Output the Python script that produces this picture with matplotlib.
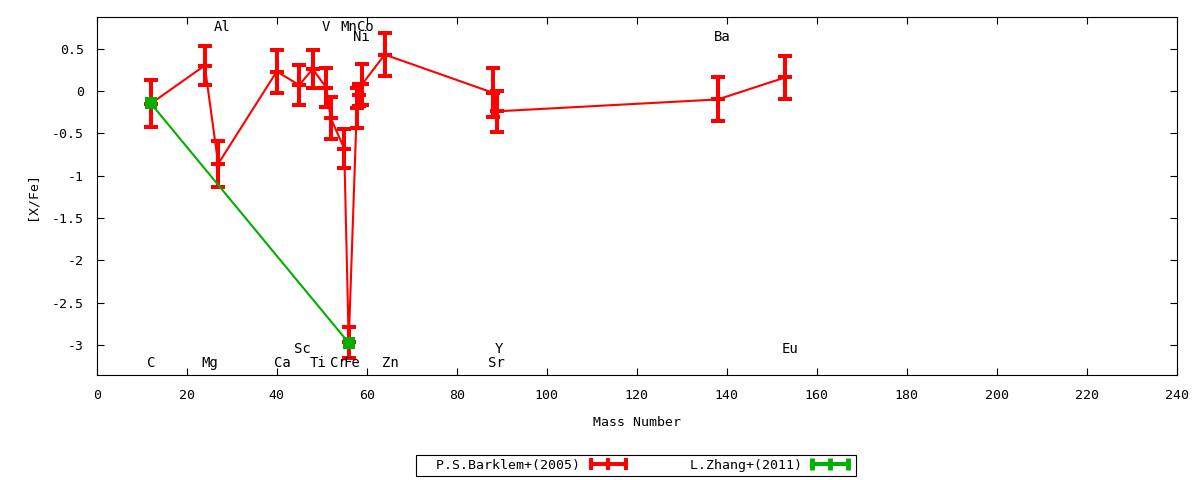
import matplotlib
matplotlib.use("Agg")
import matplotlib.pyplot as plt
from matplotlib.lines import Line2D

plt.rcParams['font.family'] = ['DejaVu Sans Mono', 'DejaVu Sans']
plt.rcParams['font.size'] = 9.5

# P.S.Barklem+(2005)
bark_mass = [12, 24, 27, 40, 45, 48, 51, 52, 55, 56, 57.8, 58.3, 59, 64, 88, 89, 138, 153]
bark_val = [-0.15, 0.30, -0.86, 0.23, 0.07, 0.26, 0.04, -0.32, -0.68, -2.97,
            -0.20, -0.05, 0.08, 0.43, -0.02, -0.24, -0.10, 0.16]
bark_err = [0.28, 0.23, 0.27, 0.25, 0.24, 0.22, 0.23, 0.25, 0.23, 0.18,
            0.24, 0.13, 0.24, 0.25, 0.29, 0.24, 0.26, 0.25]

# L.Zhang+(2011)
zhang_mass = [12, 56]
zhang_val = [-0.145, -2.975]
zhang_err = [0.03, 0.03]

# element name labels
lab_text = ['Al', 'V', 'Mn', 'Co', 'Ni', 'Ba',
            'C', 'Mg', 'Ca', 'Ti', 'Cr', 'Fe', 'Zn', 'Sr',
            'Sc', 'Y', 'Eu']
lab_x = [27.8, 50.9, 56.0, 59.8, 58.9, 138.9,
         12.1, 25.2, 41.2, 49.2, 53.6, 56.7, 65.2, 88.9,
         45.8, 89.4, 154.1]
lab_y = [0.756, 0.756, 0.756, 0.756, 0.638, 0.638,
         -3.211, -3.211, -3.211, -3.211, -3.211, -3.211, -3.211, -3.211,
         -3.046, -3.046, -3.046]

fig = plt.figure(figsize=(12, 4.8), dpi=100)
ax = fig.add_axes([0.0806, 0.219, 0.9, 0.7456])

red = '#ff0000'
green = '#00b000'

ax.errorbar(bark_mass, bark_val, yerr=bark_err, color=red, lw=1.5,
            elinewidth=2.9, capsize=4.7, capthick=2.9,
            marker='_', ms=9.4, mew=2.9)
ax.errorbar(zhang_mass, zhang_val, yerr=zhang_err, color=green, lw=1.5,
            elinewidth=2.9, capsize=4.7, capthick=2.9,
            marker='s', ms=8, mew=0, zorder=3)

for t, x, y in zip(lab_text, lab_x, lab_y):
    ax.text(x, y, t, ha='center', va='center', fontsize=10)

ax.set_xlim(0, 240)
ax.set_ylim(-3.353, 0.874)
ax.set_xticks(range(0, 241, 20))
ax.set_yticks([0.5, 0, -0.5, -1, -1.5, -2, -2.5, -3])
ax.set_yticklabels(['0.5', '0', '-0.5', '-1', '-1.5', '-2', '-2.5', '-3'])
ax.tick_params(direction='in', length=5, top=True, right=True, width=0.8)
ax.tick_params(axis='x', pad=10)
ax.tick_params(axis='y', pad=9)
ax.set_xlabel('Mass Number', labelpad=10)
ax.set_ylabel('[X/Fe]', labelpad=10)

# legend samples look like horizontal bars with ticks
h1 = Line2D([], [], color=red, lw=2.9, marker='|', ms=9, mew=2.9)
h2 = Line2D([], [], color=green, lw=2.9, marker='|', ms=9, mew=3.5)
leg = fig.legend(handles=[h1, h2], labels=['  P.S.Barklem+(2005)', '  L.Zhang+(2011)'],
                 loc='center', bbox_to_anchor=(0.53, 0.031),
                 ncol=2, markerfirst=False, fancybox=False, edgecolor='black',
                 framealpha=1, handlelength=3.3, columnspacing=3.3, numpoints=3,
                 borderpad=0.3, handletextpad=0.5, borderaxespad=0)
leg.get_frame().set_linewidth(0.8)

fig.savefig('out.png', dpi=100)
